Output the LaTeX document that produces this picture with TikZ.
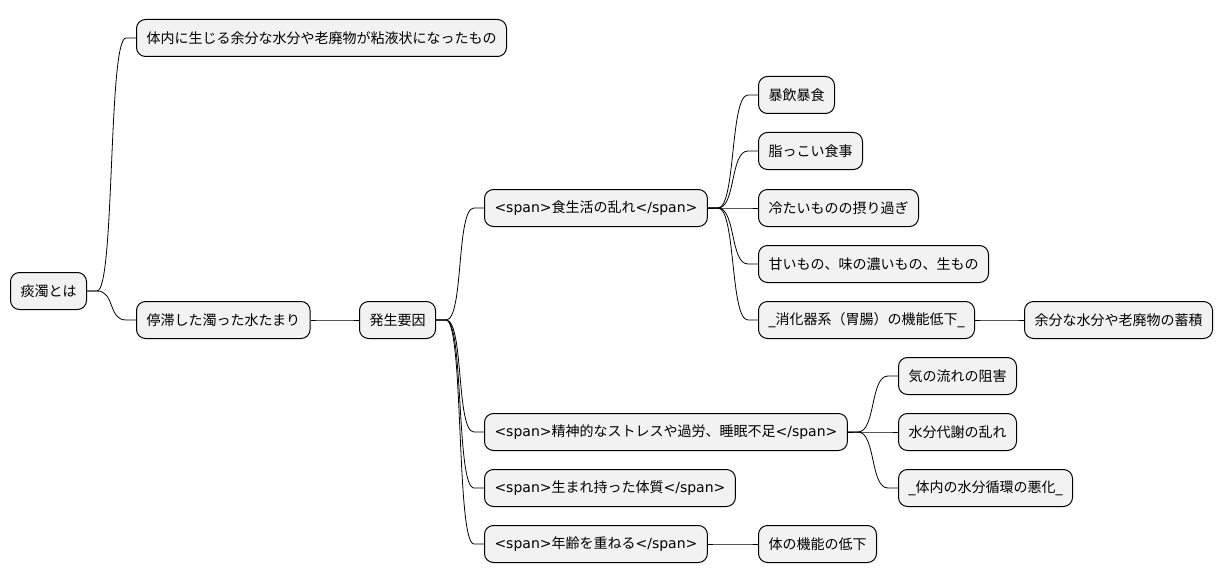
\documentclass[tikz,border=0pt]{standalone}
\usepackage{fontspec}
\setmainfont{Noto Sans CJK JP}
\newfontfamily\lat{DejaVu Sans}
\usetikzlibrary{positioning}

\begin{document}
\begin{tikzpicture}[
  x=1pt,y=-1pt,
  font=\fontsize{14}{16}\selectfont,
  topic/.style={draw,line width=1pt,rounded corners=9pt,fill=black!5,anchor=west,
    minimum height=37pt,inner xsep=10pt,inner ysep=0pt},
  link/.style={line width=0.8pt,to path={-- ++(10,0) .. controls +(18,0) and +(-18,0)
    .. ([xshift=-10pt]\tikztotarget) -- (\tikztotarget)}}
]
\useasboundingbox (0,0) rectangle (1223,583);

\node[topic] (root) at (10,291) {痰濁とは};
\node[topic] (def) at (136,38) {体内に生じる余分な水分や老廃物が粘液状になったもの};
\node[topic] (pool) at (136,320) {停滞した濁った水たまり};
\node[topic] (cause) at (359,320) {発生要因};

\node[topic] (diet) at (484,208) {{\lat<span>}食生活の乱れ{\lat</span>}};
\node[topic] (diet1) at (758,95) {暴飲暴食};
\node[topic] (diet2) at (758,151) {脂っこい食事};
\node[topic] (diet3) at (758,208) {冷たいものの摂り過ぎ};
\node[topic] (diet4) at (758,264) {甘いもの、味の濃いもの、生もの};
\node[topic] (diet5) at (758,320) {{\lat\_}消化器系（胃腸）の機能低下{\lat\_}};
\node[topic] (waste) at (1024,320) {余分な水分や老廃物の蓄積};

\node[topic] (stress) at (484,432) {{\lat<span>}精神的なストレスや過労、睡眠不足{\lat</span>}};
\node[topic] (stress1) at (898,376) {気の流れの阻害};
\node[topic] (stress2) at (898,432) {水分代謝の乱れ};
\node[topic] (stress3) at (898,488) {{\lat\_}体内の水分循環の悪化{\lat\_}};

\node[topic] (nature) at (484,488) {{\lat<span>}生まれ持った体質{\lat</span>}};
\node[topic] (age) at (484,544) {{\lat<span>}年齢を重ねる{\lat</span>}};
\node[topic] (age1) at (758,544) {体の機能の低下};

% branches
\draw[link] (root.east) to (def.west);
\draw[link] (root.east) to (pool.west);
\draw[link] (pool.east) to (cause.west);
\foreach \n in {diet,stress,nature,age}
  \draw[link] (cause.east) to (\n.west);
\foreach \n in {diet1,diet2,diet3,diet4,diet5}
  \draw[link] (diet.east) to (\n.west);
\draw[link] (diet5.east) to (waste.west);
\foreach \n in {stress1,stress2,stress3}
  \draw[link] (stress.east) to (\n.west);
\draw[link] (age.east) to (age1.west);
\end{tikzpicture}
\end{document}
